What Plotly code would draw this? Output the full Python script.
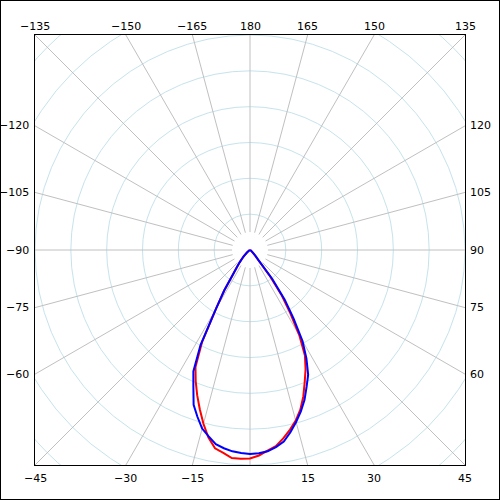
import numpy as np
import plotly.graph_objects as go

# 角度 (0 = 向下, 90 = 右, 180 = 向上)
theta = [-90, -80, -70, -60, -50, -45, -42.5, -40, -37.5, -35, -32.5, -30, -27.5, -25,
         -22.5, -20, -17.5, -15, -12.5, -10, -7.5, -5, -2.5, 0, 2.5, 5, 7.5, 10, 12.5,
         15, 17.5, 20, 22.5, 25, 27.5, 30, 32.5, 35, 37.5, 40, 42.5, 45, 50, 60, 70, 80, 90]

red_vals = [0, 0, 0, 2, 11, 25, 33, 45, 59, 81, 134, 190, 290, 360,
            396, 431, 466, 502, 536, 562, 571, 583, 583, 582, 574, 562, 552, 534, 514,
            493, 467, 435, 399, 367, 332, 276, 209, 153, 89, 31, 20, 14, 6, 2, 0, 0, 0]

blue_vals = [0, 0, 0, 3, 11, 25, 33, 45, 59, 81, 134, 190, 299, 374,
             413, 460, 488, 516, 533, 550, 558, 564, 567, 569, 568, 564, 555, 543, 521,
             497, 472, 445, 413, 384, 341, 293, 226, 169, 103, 36, 25, 17, 8, 3, 0, 0, 0]

spoke_angles = list(range(-165, 181, 15))
label_angles = [a for a in spoke_angles if a != 0]

STEP = 100          # 每圈間距
N_RINGS = 8
R = 6 * STEP        # 外框半寬

fig = go.Figure()

#放射線 (中心留空)
xs, ys = [], []
for a in spoke_angles:
    t = np.radians(a)
    xs += [0.5 * STEP * np.sin(t), 20 * STEP * np.sin(t), None]
    ys += [-0.5 * STEP * np.cos(t), -20 * STEP * np.cos(t), None]
fig.add_trace(go.Scatter(x=xs, y=ys, mode='lines', line=dict(color='#c0c0c0', width=1),
                         hoverinfo='skip', showlegend=False))

#同心圓
for k in range(1, N_RINGS + 1):
    fig.add_shape(type='circle', xref='x', yref='y', x0=-k * STEP, x1=k * STEP,
                  y0=-k * STEP, y1=k * STEP, line=dict(color='#c6e3ec', width=1), layer='below')

#曲線
fig.add_trace(go.Scatterpolar(r=red_vals, theta=theta, mode='lines',
                              line=dict(color='#ff0000', width=2), showlegend=False))
fig.add_trace(go.Scatterpolar(r=blue_vals, theta=theta, mode='lines',
                              line=dict(color='#0000ff', width=2), showlegend=False))

#角度標籤 (paper 座標)
for a in label_angles:
    t = np.radians(a)
    s, c = np.sin(t), np.cos(t)
    txt = str(a).replace('-', '\u2212')
    if abs(c) >= abs(s) - 1e-9:
        x, y = R * s / abs(c), -R * np.sign(c)
    else:
        x, y = R * np.sign(s), -R * c / abs(s)
    px, py = (x + R) / (2 * R), (y + R) / (2 * R)
    if abs(c) >= abs(s) - 1e-9:
        if c > 0:
            fig.add_annotation(x=px, y=0, xref='paper', yref='paper', text=txt, showarrow=False,
                               xanchor='center', yanchor='top', yshift=-5)
        else:
            fig.add_annotation(x=px, y=1, xref='paper', yref='paper', text=txt, showarrow=False,
                               xanchor='center', yanchor='bottom', yshift=0)
    else:
        if s > 0:
            fig.add_annotation(x=1, y=py, xref='paper', yref='paper', text=txt, showarrow=False,
                               xanchor='left', yanchor='middle', xshift=3)
        else:
            fig.add_annotation(x=0, y=py, xref='paper', yref='paper', text=txt, showarrow=False,
                               xanchor='right', yanchor='middle', xshift=-4)

#外框
fig.add_shape(type='rect', xref='paper', yref='paper', x0=-35 / 430, x1=1 + 35 / 430,
              y0=-35 / 430, y1=1 + 35 / 430, line=dict(color='black', width=2))

axis_style = dict(range=[-R, R], showgrid=False, zeroline=False, showticklabels=False,
                  ticks='', showline=True, mirror=True, linecolor='black', linewidth=1)
fig.update_layout(
    width=500, height=500, autosize=False,
    margin=dict(l=35, r=35, t=35, b=35),
    paper_bgcolor='white', plot_bgcolor='white',
    font=dict(family='DejaVu Sans', size=11, color='black'),
    xaxis=axis_style, yaxis=axis_style,
    polar=dict(domain=dict(x=[0, 1], y=[0, 1]), bgcolor='rgba(0,0,0,0)',
               radialaxis=dict(range=[0, R], visible=False, showgrid=False),
               angularaxis=dict(rotation=-90, direction='counterclockwise', visible=False,
                                showgrid=False)),
    showlegend=False,
)

fig.write_html("out.html", config={'displayModeBar': False},
               post_script="document.body.style.margin='0';document.body.style.overflow='hidden';")
